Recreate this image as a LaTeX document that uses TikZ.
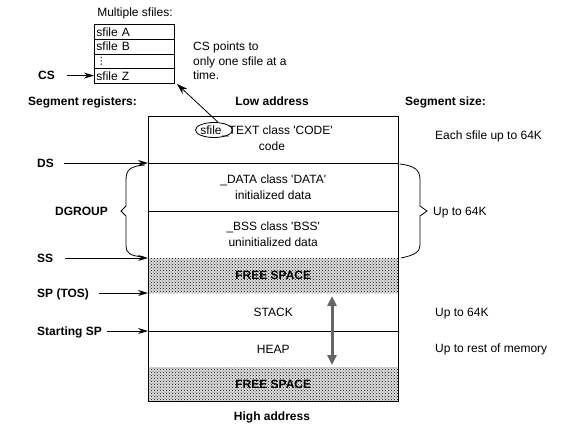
\documentclass[tikz,border=0pt]{standalone}
\usepackage{fontspec}
\setmainfont{Liberation Sans}
\newfontfamily\dejavu{DejaVu Sans}
\usetikzlibrary{arrows.meta,patterns,shapes.geometric}
\begin{document}
\begin{tikzpicture}[x=1pt,y=-1pt,
  every node/.style={inner sep=0pt, font=\fontsize{12}{16}\selectfont},
  one/.style={text height=8.6pt, text depth=0pt},
  lbl/.style={one, font=\fontsize{12}{16}\selectfont\bfseries},
  region/.style={anchor=north west, minimum width=250pt, align=center},
  stip/.style={preaction={fill=black!12}, pattern=crosshatch dots, pattern color=black},
  row/.style={draw, line width=0.9pt, anchor=north west, minimum width=80pt, minimum height=14.75pt, inner xsep=2pt, text width=76pt, align=left},
  reg/.style={line width=0.9pt, -{Stealth[length=10pt,width=6pt]}},
  thin/.style={line width=0.8pt}]
\useasboundingbox (0,0) rectangle (569,437);

% top table of sfiles
\node[one] (mult) at (135,12) {Multiple sfiles:};
\node[row] (rA) at (94,24) {sfile A};
\node[row] (rB) at (94,38.75) {sfile B};
\node[row] (rD) at (94,53.5) {\dejavu\fontsize{10}{10}\selectfont ⋮};
\node[row] (rZ) at (94,68.25) {sfile Z};
\node[lbl, anchor=west] (cs) at (38,75.6) {CS};
\draw[reg, shorten <=12pt] (cs.east) -- (cs.east -| rZ.west);
\node[anchor=west, align=left, font=\fontsize{12}{14.5}\selectfont] (note) at (193,61) {CS points to\\only one sfile at a\\time.};

% headers
\node[lbl, anchor=west] (segreg) at (28,101) {Segment registers:};
\node[lbl] (low) at (272,101) {Low address};
\node[lbl, anchor=west] (segsize) at (405,101) {Segment size:};

% memory regions
\node[region, minimum height=47pt] (code) at (148,116) {};
\node[region, minimum height=48pt] (data) at (148,163) {\_DATA class \textquotesingle DATA\textquotesingle\\initialized data};
\node[region, minimum height=47pt] (bss) at (148,211) {\_BSS class \textquotesingle BSS\textquotesingle\\uninitialized data};
\node[region, stip, minimum height=35pt, font=\fontsize{12}{16}\selectfont\bfseries] (free1) at (148,258) {FREE SPACE};
\node[region, minimum height=38pt] (stack) at (148,293) {STACK};
\node[region, minimum height=36pt] (heap) at (148,331) {HEAP};
\node[region, stip, minimum height=34pt, font=\fontsize{12}{16}\selectfont\bfseries] (free2) at (148,367) {FREE SPACE};

\draw[line width=0.9pt] (code.north west) rectangle (free2.south east);
\draw[line width=0.9pt] (code.south west) -- (code.south east)
  (data.south west) -- (data.south east)
  (stack.south west) -- (stack.south east);

% code segment text
\node[one] (sf) at (211,130) {sfile};
\node[anchor=base west] (ct) at (sf.base east) {\_TEXT class \textquotesingle CODE\textquotesingle};
\node[one] (codeB) at (272,146) {code};
\node[draw, thin, ellipse, minimum width=37pt, minimum height=15pt] (ell) at ([xshift=3pt]sf.center) {};
\draw[thin, -{Stealth[length=11pt,width=7pt]}] (ell.62) -- ([xshift=2pt]rZ.south east);

% segment registers
\node[lbl, anchor=west] (ds) at (37,163) {DS};
\draw[reg, shorten <=10pt] (ds.east) -- (ds.east -| code.south west);
\node[lbl, anchor=west] (dg) at (55,211) {DGROUP};
\node[lbl, anchor=west] (ss) at (37,258) {SS};
\draw[reg, shorten <=12pt] (ss.east) -- (ss.east -| free1.north west);
\node[lbl, anchor=west] (sp) at (37,293) {SP (TOS)};
\draw[reg, shorten <=10pt] (sp.east) -- (sp.east -| stack.north west);
\node[lbl, anchor=west] (ssp) at (37,331) {Starting SP};
\draw[reg, shorten <=5pt] (ssp.east) -- (ssp.east -| heap.north west);

% braces
\draw[thin] (145,165) .. controls (130,166) and (126,170) .. (126,180) -- (126,206) -- (121,211) -- (126,216) -- (126,246) .. controls (126,253) and (130,256) .. (144,257);
\draw[thin] (400,164) .. controls (415,166) and (420,170) .. (420,180) -- (420,206) -- (427,211) -- (420,216) -- (420,245) .. controls (420,252) and (415,255) .. (401,258);

% segment sizes
\node[one, anchor=west] (r1) at (435,135) {Each sfile up to 64K};
\node[one, anchor=west] (r2) at (433,211) {Up to 64K};
\node[one, anchor=west] (r3) at (435,312) {Up to 64K};
\node[one, anchor=west] (r4) at (435,348) {Up to rest of memory};

% stack/heap growth arrow
\coordinate (ua) at (332,296);
\coordinate (da) at (332,365);
\draw[black!60, line width=3pt, {Triangle[length=10pt,width=9pt]}-{Triangle[length=10pt,width=9pt]}] (ua) -- (da);

\node[lbl] (high) at (272,416) {High address};
\end{tikzpicture}
\end{document}
